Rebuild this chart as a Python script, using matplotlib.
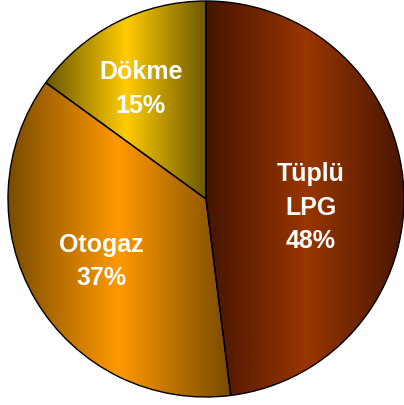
import matplotlib
matplotlib.use("Agg")
import matplotlib.pyplot as plt
import numpy as np
from matplotlib.patches import Wedge

# Share of LPG sales by segment
labels = ["Tüplü\nLPG", "Otogaz", "Dökme"]
shares = [48, 37, 15]

# Gradient colours per slice: (edge, centre)
edge_colors = [(0.27, 0.08, 0.00), (0.47, 0.29, 0.00), (0.42, 0.34, 0.00)]
center_colors = [(0.60, 0.21, 0.00), (1.00, 0.60, 0.00), (1.00, 0.80, 0.00)]

# Label anchor points (data units, pie radius = 1)
label_pos = [(0.53, -0.04), (-0.53, -0.31), (-0.33, 0.56)]

fig = plt.figure(figsize=(4.04, 4.06), dpi=100)
ax = fig.add_axes([0, 0, 1, 1])
ax.set_xlim(-206 / 198, 198 / 198)
ax.set_ylim(-206 / 198, 200 / 198)
ax.set_aspect("equal")
ax.axis("off")

start = 90.0
for share, c_edge, c_mid, label, pos in zip(shares, edge_colors, center_colors, labels, label_pos):
    sweep = share / 100 * 360
    theta1, theta2 = start - sweep, start
    start = theta1

    wedge = Wedge((0, 0), 1.0, theta1, theta2, facecolor="none", edgecolor="black", lw=1.0)
    ax.add_patch(wedge)

    # horizontal dark-bright-dark gradient across the slice width
    verts = wedge.get_path().vertices
    x0, x1 = verts[:, 0].min(), verts[:, 0].max()
    y0, y1 = verts[:, 1].min(), verts[:, 1].max()
    t = np.linspace(0, 1, 256)
    k = 1 - np.abs(2 * t - 1)
    rgb = np.array(c_edge)[None, :] * (1 - k[:, None]) + np.array(c_mid)[None, :] * k[:, None]
    img = ax.imshow(rgb[None, :, :], extent=(x0, x1, y0, y1), aspect="auto",
                    interpolation="bilinear", zorder=1)
    img.set_clip_path(wedge)
    wedge.set_zorder(2)

    ax.text(pos[0], pos[1], f"{label}\n{share}%", ha="center", va="center",
            color="white", fontsize=18, fontweight="bold",
            family="Liberation Sans", linespacing=1.5, zorder=3)

fig.savefig("out.png", dpi=100)
